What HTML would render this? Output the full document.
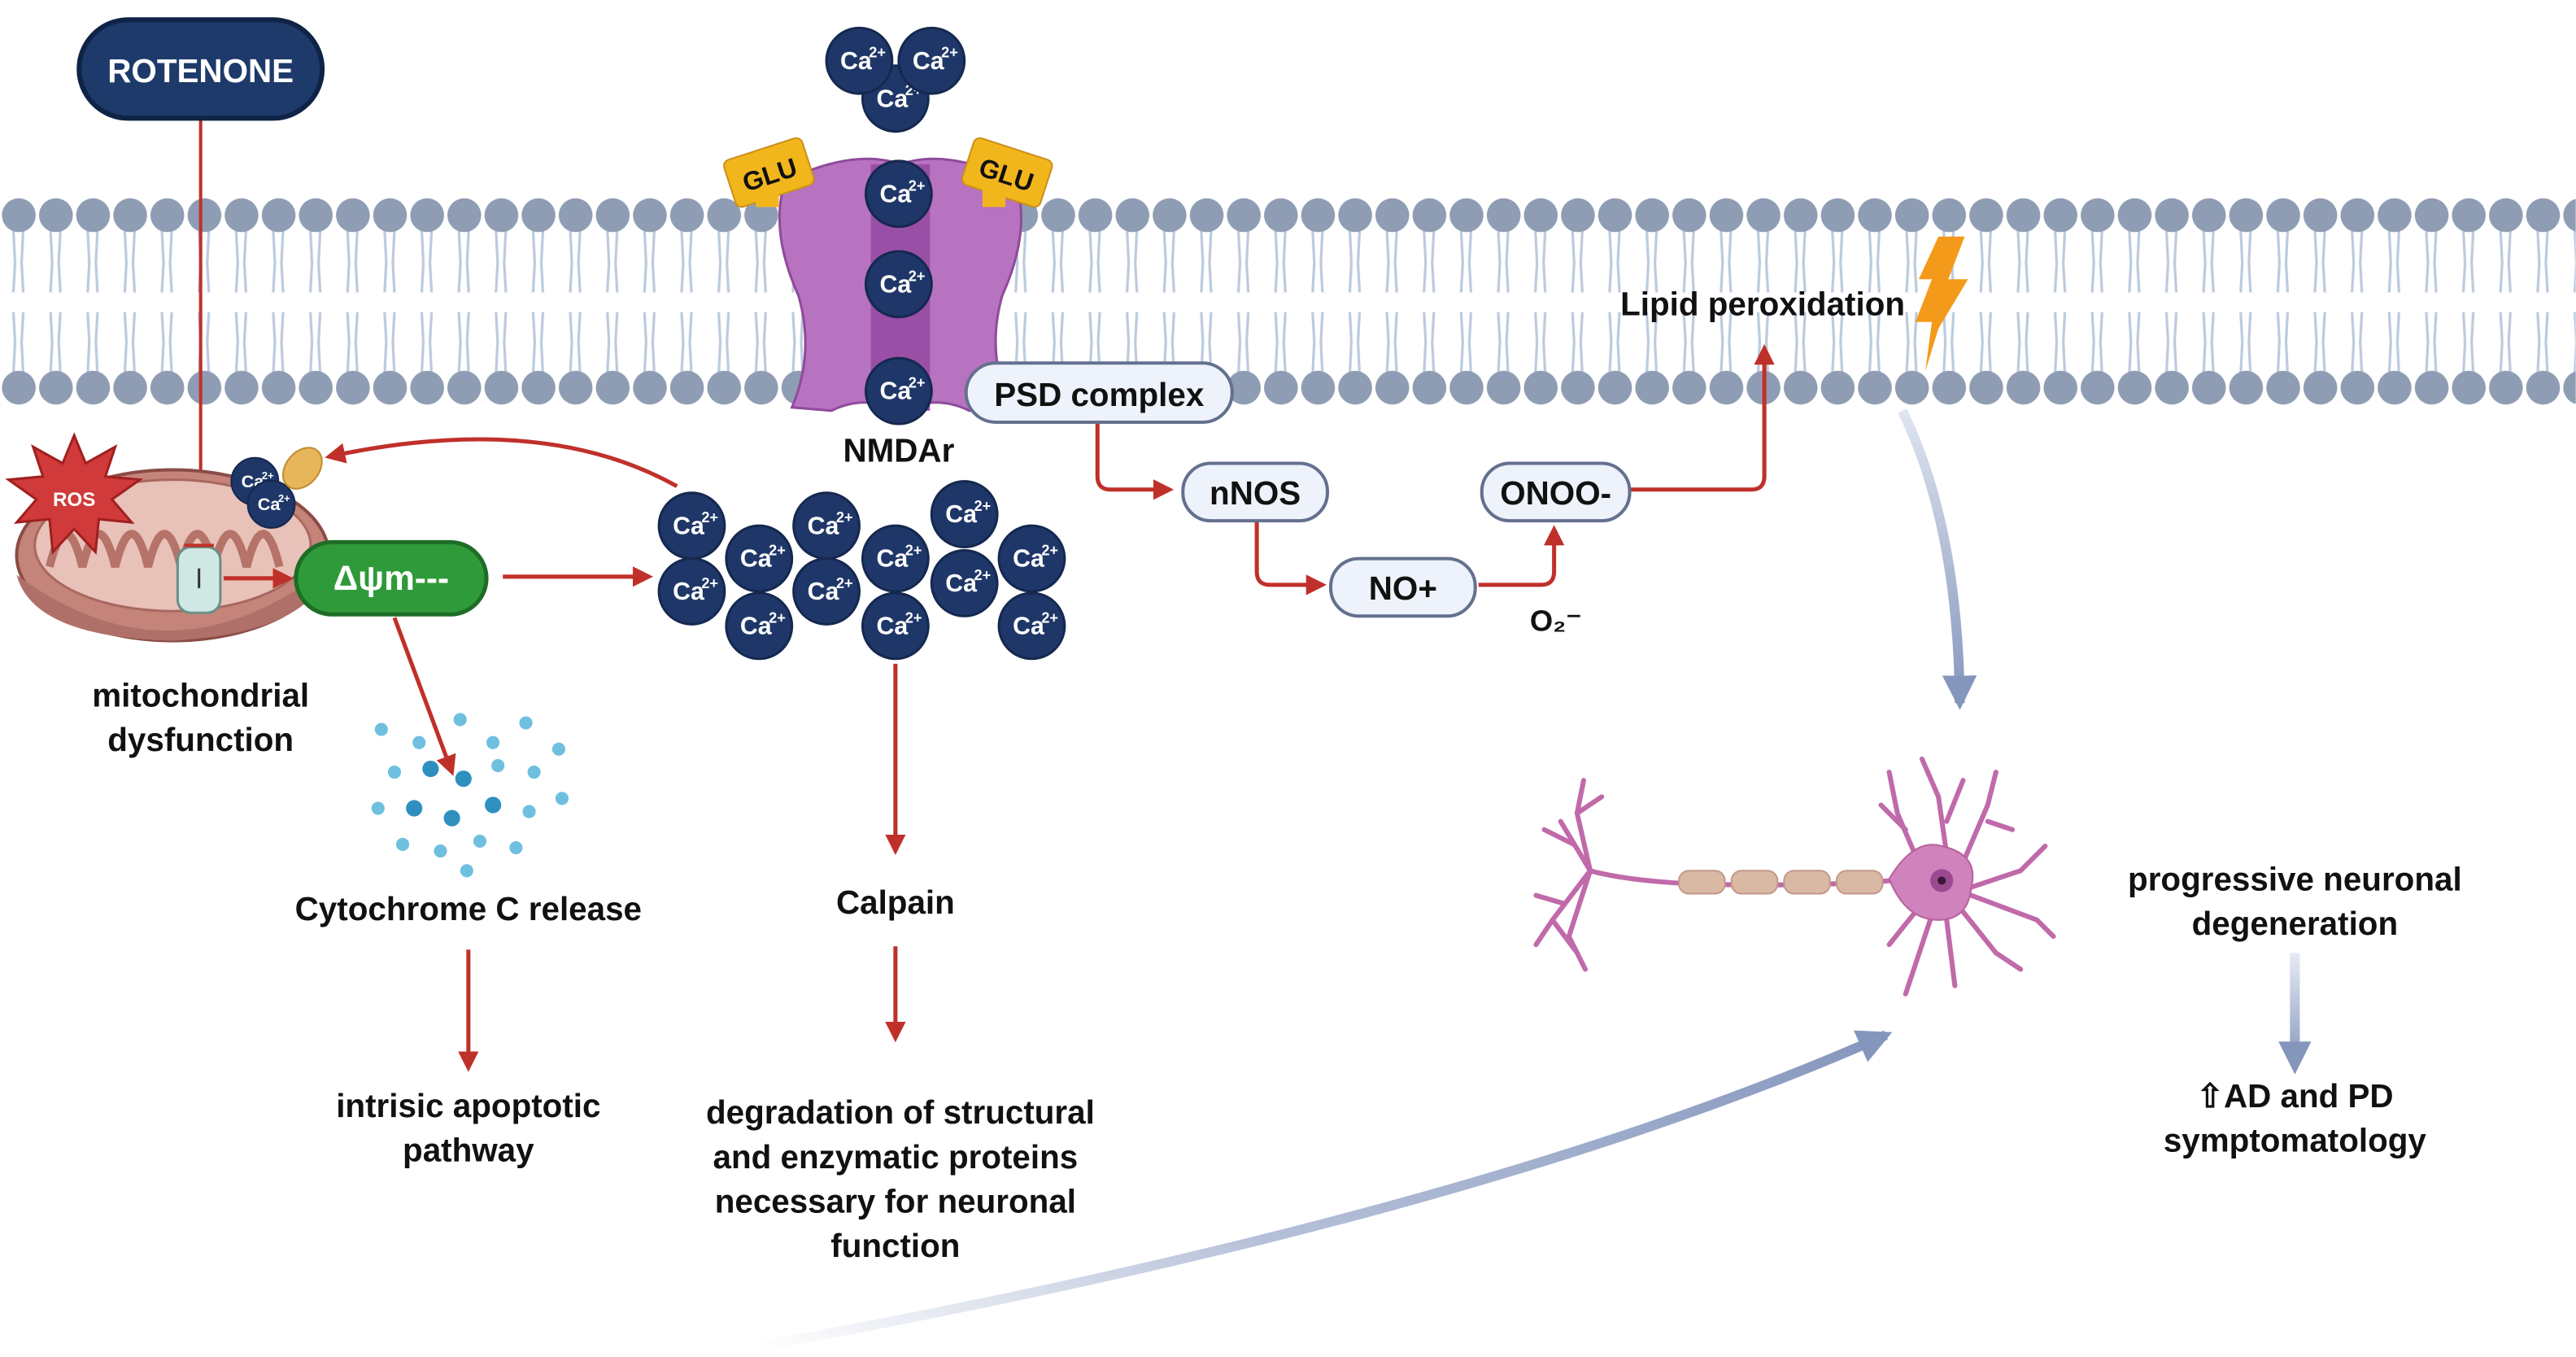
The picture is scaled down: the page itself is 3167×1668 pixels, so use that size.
<!DOCTYPE html>
<html><head><meta charset="utf-8"><style>
html,body{margin:0;padding:0;background:#fff;}
svg{display:block;}
text{font-family:"Liberation Sans",sans-serif;font-weight:bold;}
</style></head><body>
<svg width="3167" height="1668" viewBox="0 0 1568 826" xmlns="http://www.w3.org/2000/svg">
<defs>
<pattern id="mem" x="0" y="0" width="22.6" height="826" patternUnits="userSpaceOnUse">
<path d="M8 140 L9 160 L8 178 M14 140 L13 160 L14 178 M8 190 L9 208 L8 228 M14 190 L13 208 L14 228" stroke="#bccbdd" stroke-width="1.6" fill="none"/>
<circle cx="11.3" cy="131" r="10.3" fill="#8e9db3"/>
<circle cx="11.3" cy="236" r="10.3" fill="#8e9db3"/>
</pattern>
<marker id="ar" viewBox="0 0 10 10" refX="8" refY="5" markerWidth="5" markerHeight="5" orient="auto"><path d="M0 0L10 5L0 10z" fill="#c0302a"/></marker>
<marker id="ab" viewBox="0 0 10 10" refX="8" refY="5" markerWidth="3.5" markerHeight="3.5" orient="auto"><path d="M0 0L10 5L0 10z" fill="#8596bd"/></marker>
<linearGradient id="g1" x1="0" y1="0" x2="0" y2="1"><stop offset="0" stop-color="#dfe5f0"/><stop offset="1" stop-color="#8596bd"/></linearGradient>
<linearGradient id="g3" gradientUnits="userSpaceOnUse" x1="0" y1="580" x2="0" y2="650"><stop offset="0" stop-color="#e6ebf4"/><stop offset="1" stop-color="#8596bd"/></linearGradient>
<linearGradient id="g2" x1="0" y1="1" x2="1" y2="0"><stop offset="0" stop-color="#fff"/><stop offset="0.4" stop-color="#b5c0d8"/><stop offset="1" stop-color="#8596bd"/></linearGradient>
<symbol id="ca" viewBox="-21 -21 42 42"><circle r="20" fill="#1f3768" stroke="#15284f" stroke-width="1.5"/><text x="-2" y="5" font-size="15" fill="#fff" text-anchor="middle" font-weight="normal">Ca</text><text x="11" y="-2" font-size="9" fill="#fff" text-anchor="middle" font-weight="normal">2+</text></symbol>
</defs>
<rect width="1568" height="826" fill="#fff"/>
<rect x="0" y="115" width="1568" height="135" fill="url(#mem)"/>

<!-- Rotenone -->
<line x1="122" y1="72" x2="122" y2="340" stroke="#c0302a" stroke-width="2"/>
<rect x="48" y="12" width="148" height="60" rx="30" fill="#1d3a6b" stroke="#0f2346" stroke-width="3"/>
<text x="122" y="50" font-size="20" fill="#fff" text-anchor="middle">ROTENONE</text>

<!-- Mitochondrion -->
<ellipse cx="105" cy="338" rx="95" ry="52" fill="#c5847a" stroke="#8a4d46" stroke-width="2"/>
<ellipse cx="105" cy="332" rx="84" ry="40" fill="#e8c1b8" stroke="#a86860" stroke-width="1.5"/>
<path d="M30 345 q10 -40 20 0 q10 -40 20 0 q10 -40 20 0 q10 -40 20 0 q10 -40 20 0 q10 -40 20 0 q10 -40 20 0" fill="none" stroke="#b57369" stroke-width="5"/>
<path d="M10 350 Q105 420 200 345 Q190 385 105 390 Q20 388 10 350z" fill="#b0706a"/>
<polygon points="45,265 52,282 70,272 64,290 85,292 68,304 80,318 60,316 58,336 45,322 32,336 30,316 10,318 22,304 5,292 26,290 20,272 38,282" fill="#d03a3a" stroke="#a02020" stroke-width="1.5"/>
<text x="45" y="308" font-size="12" fill="#fff" text-anchor="middle">ROS</text>
<use href="#ca" x="140" y="278" width="30" height="30"/>
<use href="#ca" x="150" y="292" width="30" height="30"/>
<ellipse cx="184" cy="285" rx="10" ry="14" transform="rotate(40 184 285)" fill="#e8b65a" stroke="#c08d30"/>
<rect x="108" y="333" width="26" height="40" rx="8" fill="#cfe8e3" stroke="#6a8f88" stroke-width="1.5"/>
<line x1="121" y1="346" x2="121" y2="358" stroke="#333" stroke-width="1.5"/>
<line x1="112" y1="332" x2="130" y2="332" stroke="#c0302a" stroke-width="2"/>
<line x1="136" y1="352" x2="176" y2="352" stroke="#c0302a" stroke-width="2.5" marker-end="url(#ar)"/>
<rect x="180" y="330" width="116" height="44" rx="22" fill="#2f9a3a" stroke="#1d6d26" stroke-width="2.5"/>
<text x="238" y="359" font-size="21" fill="#fff" text-anchor="middle">Δψm---</text>
<text x="122" y="430" font-size="20" fill="#111" text-anchor="middle">mitochondrial</text>
<text x="122" y="457" font-size="20" fill="#111" text-anchor="middle">dysfunction</text>

<!-- Cytochrome dots -->
<g fill="#6fc0e0">
<circle cx="232" cy="444" r="4"/><circle cx="255" cy="452" r="4"/><circle cx="280" cy="438" r="4"/><circle cx="300" cy="452" r="4"/><circle cx="320" cy="440" r="4"/>
<circle cx="240" cy="470" r="4"/><circle cx="262" cy="468" r="5" fill="#2f90c0"/><circle cx="282" cy="474" r="5" fill="#2f90c0"/><circle cx="303" cy="466" r="4"/><circle cx="325" cy="470" r="4"/><circle cx="340" cy="456" r="4"/>
<circle cx="230" cy="492" r="4"/><circle cx="252" cy="492" r="5" fill="#2f90c0"/><circle cx="275" cy="498" r="5" fill="#2f90c0"/><circle cx="300" cy="490" r="5" fill="#2f90c0"/><circle cx="322" cy="494" r="4"/><circle cx="342" cy="486" r="4"/>
<circle cx="245" cy="514" r="4"/><circle cx="268" cy="518" r="4"/><circle cx="292" cy="512" r="4"/><circle cx="314" cy="516" r="4"/><circle cx="284" cy="530" r="4"/>
</g>
<line x1="240" y1="376" x2="275" y2="470" stroke="#c0302a" stroke-width="2.5" marker-end="url(#ar)"/>
<text x="285" y="560" font-size="20" fill="#111" text-anchor="middle">Cytochrome C release</text>
<line x1="285" y1="578" x2="285" y2="650" stroke="#c0302a" stroke-width="2.5" marker-end="url(#ar)"/>
<text x="285" y="680" font-size="20" fill="#111" text-anchor="middle">intrisic apoptotic</text>
<text x="285" y="707" font-size="20" fill="#111" text-anchor="middle">pathway</text>

<!-- Arrow Δψm to Ca cluster -->
<line x1="306" y1="351" x2="395" y2="351" stroke="#c0302a" stroke-width="2.5" marker-end="url(#ar)"/>
<path d="M412 296 Q330 250 200 278" fill="none" stroke="#c0302a" stroke-width="2.5" marker-end="url(#ar)"/>

<!-- NMDA receptor -->
<path d="M478 110 Q520 90 548 100 Q576 90 618 110 Q628 140 610 180 Q600 215 615 248 L590 250 Q570 240 548 250 Q526 240 506 250 L482 248 Q496 215 486 180 Q468 140 478 110z" fill="#b772c0" stroke="#8f4b9b" stroke-width="1.5"/>
<rect x="530" y="100" width="36" height="150" fill="#9a4fa6"/>
<rect x="443" y="90" width="50" height="30" rx="4" transform="rotate(-18 468 105)" fill="#f2b61d" stroke="#c9901a"/>
<rect x="460" y="110" width="14" height="16" fill="#f2b61d"/>
<text x="468" y="112" font-size="16" fill="#111" text-anchor="middle" transform="rotate(-18 468 105)">GLU</text>
<rect x="588" y="90" width="50" height="30" rx="4" transform="rotate(18 613 105)" fill="#f2b61d" stroke="#c9901a"/>
<rect x="598" y="110" width="14" height="16" fill="#f2b61d"/>
<text x="613" y="112" font-size="16" fill="#111" text-anchor="middle" transform="rotate(18 613 105)">GLU</text>
<use href="#ca" x="524" y="39" width="42" height="42"/>
<use href="#ca" x="502" y="16" width="42" height="42"/>
<use href="#ca" x="546" y="16" width="42" height="42"/>
<use href="#ca" x="526" y="97" width="42" height="42"/>
<use href="#ca" x="526" y="152" width="42" height="42"/>
<use href="#ca" x="526" y="217" width="42" height="42"/>
<text x="547" y="281" font-size="20" fill="#111" text-anchor="middle">NMDAr</text>

<!-- Ca cluster -->
<g>
<use href="#ca" x="400" y="299" width="42" height="42"/>
<use href="#ca" x="400" y="339" width="42" height="42"/>
<use href="#ca" x="441" y="319" width="42" height="42"/>
<use href="#ca" x="441" y="360" width="42" height="42"/>
<use href="#ca" x="482" y="299" width="42" height="42"/>
<use href="#ca" x="482" y="339" width="42" height="42"/>
<use href="#ca" x="524" y="319" width="42" height="42"/>
<use href="#ca" x="524" y="360" width="42" height="42"/>
<use href="#ca" x="566" y="292" width="42" height="42"/>
<use href="#ca" x="566" y="334" width="42" height="42"/>
<use href="#ca" x="607" y="319" width="42" height="42"/>
<use href="#ca" x="607" y="360" width="42" height="42"/>
</g>
<line x1="545" y1="404" x2="545" y2="518" stroke="#c0302a" stroke-width="2.5" marker-end="url(#ar)"/>
<text x="545" y="556" font-size="20" fill="#111" text-anchor="middle">Calpain</text>
<line x1="545" y1="576" x2="545" y2="632" stroke="#c0302a" stroke-width="2.5" marker-end="url(#ar)"/>
<g font-size="20" fill="#111" text-anchor="middle">
<text x="548" y="684">degradation of structural</text>
<text x="545" y="711">and enzymatic proteins</text>
<text x="545" y="738">necessary for neuronal</text>
<text x="545" y="765">function</text>
</g>

<!-- PSD pathway -->
<path d="M668 258 L668 290 Q668 298 676 298 L712 298" fill="none" stroke="#c0302a" stroke-width="2.5" marker-end="url(#ar)"/>
<path d="M765 317 L765 348 Q765 356 773 356 L805 356" fill="none" stroke="#c0302a" stroke-width="2.5" marker-end="url(#ar)"/>
<path d="M900 356 L938 356 Q946 356 946 348 L946 322" fill="none" stroke="#c0302a" stroke-width="2.5" marker-end="url(#ar)"/>
<path d="M992 298 L1066 298 Q1074 298 1074 290 L1074 212" fill="none" stroke="#c0302a" stroke-width="2.5" marker-end="url(#ar)"/>
<rect x="588" y="221" width="162" height="36" rx="18" fill="#eef2fa" stroke="#64708f" stroke-width="2"/>
<text x="669" y="247" font-size="20" fill="#111" text-anchor="middle">PSD complex</text>
<rect x="720" y="282" width="88" height="35" rx="17" fill="#eef2fa" stroke="#64708f" stroke-width="2"/>
<text x="764" y="307" font-size="20" fill="#111" text-anchor="middle">nNOS</text>
<rect x="810" y="340" width="88" height="35" rx="17" fill="#eef2fa" stroke="#64708f" stroke-width="2"/>
<text x="854" y="365" font-size="20" fill="#111" text-anchor="middle">NO+</text>
<rect x="902" y="282" width="90" height="35" rx="17" fill="#eef2fa" stroke="#64708f" stroke-width="2"/>
<text x="947" y="307" font-size="20" fill="#111" text-anchor="middle">ONOO-</text>
<text x="947" y="384" font-size="18" fill="#111" text-anchor="middle">O₂⁻</text>
<text x="1073" y="192" font-size="20" fill="#111" text-anchor="middle">Lipid peroxidation</text>
<polygon points="1180,144 1196,144 1186,170 1198,170 1180,200 1172,226 1176,196 1166,196 1176,170 1168,170" fill="#f49a1a"/>

<!-- Blue arrows -->
<path d="M1158 250 Q1192 320 1193 428" fill="none" stroke="url(#g1)" stroke-width="6" marker-end="url(#ab)"/>
<path d="M460 820 Q900 740 1148 630" fill="none" stroke="url(#g2)" stroke-width="6" marker-end="url(#ab)"/>
<rect x="1394" y="580" width="6" height="56" fill="url(#g3)"/>
<polygon points="1387,634 1407,634 1397,654" fill="#8596bd"/>

<!-- Neuron -->
<g stroke="#c06aaa" fill="none" stroke-width="3" stroke-linecap="round">
<path d="M1152 536 Q1100 540 1030 538 Q990 536 968 530"/>
<path d="M968 530 L950 500 M958 514 L940 505 M968 530 L960 495 L964 475 M960 495 L975 485 M968 530 L945 560 L935 575 M945 560 L960 580 M952 550 L935 545 M968 530 L955 570 L965 590"/>
<path d="M1170 530 L1155 495 L1150 470 M1160 505 L1145 490 M1185 520 L1180 485 L1170 462 M1185 500 L1195 475 M1195 525 L1210 490 L1215 470 M1210 500 L1225 505 M1200 540 L1230 530 L1245 515 M1200 545 L1240 560 L1250 570 M1195 555 L1215 580 L1230 590 M1185 560 L1190 600 M1175 560 L1165 590 L1160 605 M1170 550 L1150 575"/>
</g>
<g fill="#d9b9a4" stroke="#c4998a">
<rect x="1022" y="530" width="28" height="14" rx="6"/><rect x="1054" y="530" width="28" height="14" rx="6"/><rect x="1086" y="530" width="28" height="14" rx="6"/><rect x="1118" y="530" width="28" height="14" rx="6"/>
</g>
<path d="M1150 535 Q1165 510 1182 515 Q1205 520 1200 540 Q1198 560 1180 560 Q1160 560 1150 535z" fill="#cf82bb" stroke="#b8619f"/>
<circle cx="1182" cy="536" r="7" fill="#9a4a8e"/>
<circle cx="1182" cy="536" r="2.5" fill="#3a1638"/>
<g font-size="20" fill="#111" text-anchor="middle">
<text x="1397" y="542">progressive neuronal</text>
<text x="1397" y="569">degeneration</text>
<text x="1397" y="674">⇧AD and PD</text>
<text x="1397" y="701">symptomatology</text>
</g>
</svg>
</body></html>
